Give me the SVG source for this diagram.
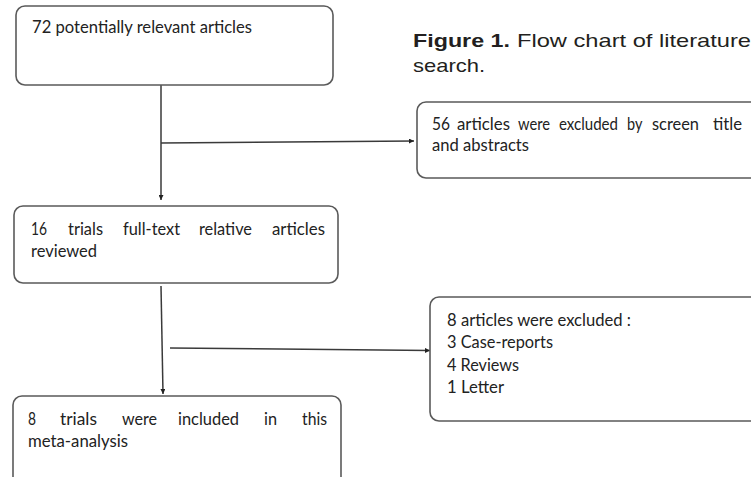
<svg xmlns="http://www.w3.org/2000/svg" width="751" height="477" viewBox="0 0 751 477">
<defs>
<style>
.box{fill:#fff;stroke:#5a5a5a;stroke-width:1.6}
.t{font-family:Lato,"Open Sans","Liberation Sans",sans-serif;font-size:17px;fill:#222}
.cap{font-family:"Liberation Sans",Arial,sans-serif;font-size:19px;fill:#231f20}
.ln{stroke:#3a3a3a;stroke-width:1.5;fill:none}
</style>
<marker id="ah" viewBox="0 0 10 10" refX="10" refY="5" markerWidth="5" markerHeight="5" orient="auto" markerUnits="userSpaceOnUse">
<path d="M0,0 L10,5 L0,10 z" fill="#222"/>
</marker>
</defs>
<rect width="751" height="477" fill="#fff"/>
<g id="caption">
<text class="cap" x="413" y="47"><tspan font-weight="bold" textLength="97" lengthAdjust="spacingAndGlyphs">Figure 1.</tspan></text>
<text class="cap" x="517" y="47" textLength="234" lengthAdjust="spacingAndGlyphs">Flow chart of literature</text>
<text class="cap" x="413" y="72" textLength="72" lengthAdjust="spacingAndGlyphs">search.</text>
</g>
<g id="connectors">
<line class="ln" x1="161" y1="85" x2="161" y2="200" marker-end="url(#ah)"/>
<line class="ln" x1="161" y1="143" x2="414" y2="141" marker-end="url(#ah)"/>
<line class="ln" x1="161" y1="286" x2="163" y2="394" marker-end="url(#ah)"/>
<line class="ln" x1="170" y1="348" x2="430" y2="350.5" marker-end="url(#ah)"/>
</g>
<g id="n1">
<rect class="box" x="16" y="6" width="317" height="79" rx="9"/>
<text class="t" x="32" y="33" textLength="220" lengthAdjust="spacingAndGlyphs">72 potentially relevant articles</text>
</g>
<g id="n2">
<rect class="box" x="417" y="102" width="350" height="76" rx="9"/>
<text class="t" y="130">
<tspan x="432" textLength="18" lengthAdjust="spacingAndGlyphs">56</tspan>
<tspan x="457" textLength="53" lengthAdjust="spacingAndGlyphs">articles</tspan>
<tspan x="518" textLength="32" lengthAdjust="spacingAndGlyphs">were</tspan>
<tspan x="559" textLength="59" lengthAdjust="spacingAndGlyphs">excluded</tspan>
<tspan x="627" textLength="15" lengthAdjust="spacingAndGlyphs">by</tspan>
<tspan x="652" textLength="47" lengthAdjust="spacingAndGlyphs">screen</tspan>
<tspan x="713" textLength="29" lengthAdjust="spacingAndGlyphs">title</tspan>
</text>
<text class="t" x="432" y="151" textLength="97" lengthAdjust="spacingAndGlyphs">and abstracts</text>
</g>
<g id="n3">
<rect class="box" x="14" y="206" width="324" height="77" rx="9"/>
<text class="t" y="235">
<tspan x="31" textLength="16" lengthAdjust="spacingAndGlyphs">16</tspan>
<tspan x="68" textLength="35" lengthAdjust="spacingAndGlyphs">trials</tspan>
<tspan x="123" textLength="57" lengthAdjust="spacingAndGlyphs">full-text</tspan>
<tspan x="199" textLength="53" lengthAdjust="spacingAndGlyphs">relative</tspan>
<tspan x="272" textLength="53" lengthAdjust="spacingAndGlyphs">articles</tspan>
</text>
<text class="t" x="31" y="256.5" textLength="66" lengthAdjust="spacingAndGlyphs">reviewed</text>
</g>
<g id="n4">
<rect class="box" x="430" y="297" width="340" height="124" rx="9"/>
<text class="t" x="447" y="325.5" textLength="184" lengthAdjust="spacingAndGlyphs">8 articles were excluded :</text>
<text class="t" x="447" y="347.5" textLength="106" lengthAdjust="spacingAndGlyphs">3 Case-reports</text>
<text class="t" x="447" y="370.5" textLength="72" lengthAdjust="spacingAndGlyphs">4 Reviews</text>
<text class="t" x="447" y="393" textLength="57" lengthAdjust="spacingAndGlyphs">1 Letter</text>
</g>
<g id="n5">
<rect class="box" x="13" y="396" width="328" height="100" rx="9"/>
<text class="t" y="425">
<tspan x="28" textLength="8" lengthAdjust="spacingAndGlyphs">8</tspan>
<tspan x="60" textLength="37" lengthAdjust="spacingAndGlyphs">trials</tspan>
<tspan x="122" textLength="35" lengthAdjust="spacingAndGlyphs">were</tspan>
<tspan x="178" textLength="61" lengthAdjust="spacingAndGlyphs">included</tspan>
<tspan x="264" textLength="13" lengthAdjust="spacingAndGlyphs">in</tspan>
<tspan x="302" textLength="25" lengthAdjust="spacingAndGlyphs">this</tspan>
</text>
<text class="t" x="28" y="446.5" textLength="100" lengthAdjust="spacingAndGlyphs">meta-analysis</text>
</g>
</svg>
